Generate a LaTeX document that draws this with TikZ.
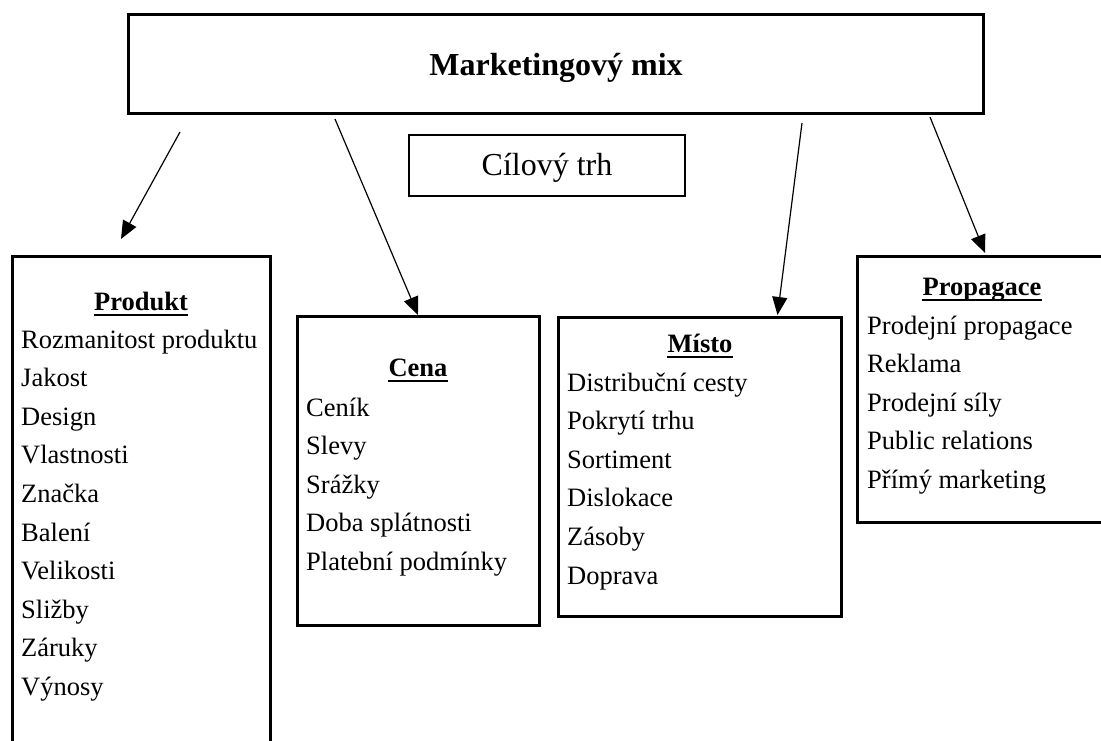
\documentclass[tikz,border=0pt]{standalone}
\usepackage{fontspec}
\setmainfont{Liberation Serif}
\usetikzlibrary{arrows.meta,calc}
\begin{document}
\begin{tikzpicture}[x=1pt,y=-1pt,
  box/.style={draw, line width=3pt, anchor=north west, inner sep=0pt, outer sep=0pt},
  thinbox/.style={draw, line width=1.6pt, anchor=north west, inner sep=0pt, outer sep=0pt},
  item/.style={anchor=base west, inner sep=0pt, font=\fontsize{26.5}{30}\selectfont},
  head/.style={anchor=base, inner sep=0pt, font=\fontsize{26.5}{30}\selectfont\bfseries},
  title/.style={anchor=base, inner sep=0pt, font=\fontsize{32}{36}\selectfont\bfseries},
  target/.style={anchor=base, inner sep=0pt, font=\fontsize{32}{36}\selectfont},
  uline/.style={line width=2pt},
  arr/.style={line width=1.2pt, -{Triangle[length=18pt,width=15pt]}}]
\useasboundingbox (0,0) rectangle (1101,740);
\clip (0,0) rectangle (1101,740);

% boxes
\node[box, minimum width=855pt, minimum height=99pt] (main) at (128,14) {};
\node[thinbox, minimum width=276pt, minimum height=61pt] (cil) at (409,135) {};
\node[box, minimum width=258pt, minimum height=530pt] (produkt) at (12,256) {};
\node[box, minimum width=242pt, minimum height=309pt] (cena) at (297,316) {};
\node[box, minimum width=283pt, minimum height=299pt] (misto) at (558,317) {};
\node[box, minimum width=250pt, minimum height=266pt] (propagace) at (857,256) {};

% titles
\node[title] (tmain) at (556,75) {Marketingový mix};
\node[target] (tcil) at (547,175) {Cílový trh};

% headings
\node[head] (hprod) at (141,310) {Produkt};
\node[head] (hcena) at (418,376) {Cena};
\node[head] (hmisto) at (700,352) {Místo};
\node[head] (hprop) at (982,295) {Propagace};
\foreach \h in {hprod,hcena,hmisto,hprop}
  \draw[uline] ([yshift=-5pt]\h.base west) -- ([yshift=-5pt]\h.base east);

% items
\foreach \t [count=\i] in {Rozmanitost produktu,Jakost,Design,Vlastnosti,Značka,Balení,Velikosti,Sližby,Záruky,Výnosy}
  \node[item] (prod\i) at (21,{348+38.6*(\i-1)}) {\t};
\foreach \t [count=\i] in {Ceník,Slevy,Srážky,Doba splátnosti,Platební podmínky}
  \node[item] (cena\i) at (306,{416+38.6*(\i-1)}) {\t};
\foreach \t [count=\i] in {Distribuční cesty,Pokrytí trhu,Sortiment,Dislokace,Zásoby,Doprava}
  \node[item] (misto\i) at (567,{391+38.6*(\i-1)}) {\t};
\foreach \t [count=\i] in {Prodejní propagace,Reklama,Prodejní síly,Public relations,Přímý marketing}
  \node[item] (prop\i) at (867,{334+38.6*(\i-1)}) {\t};

% connectors
\coordinate (s1) at ($(main.south west)+(52,19)$);
\coordinate (s2) at ($(main.south west)+(207,6)$);
\coordinate (s3) at ($(main.south west)+(674,10)$);
\coordinate (s4) at ($(main.south west)+(802,4)$);
\coordinate (e1) at ($(produkt.north west)+(109,-17)$);
\draw[arr] (s1) -- (e1);
\draw[arr] (s2) -- ([yshift=1pt]cena.north);
\draw[arr] (s3) -- ([xshift=78pt,yshift=2pt]misto.north);
\draw[arr] (s4) -- ([xshift=3pt,yshift=3pt]propagace.north);
\end{tikzpicture}
\end{document}
